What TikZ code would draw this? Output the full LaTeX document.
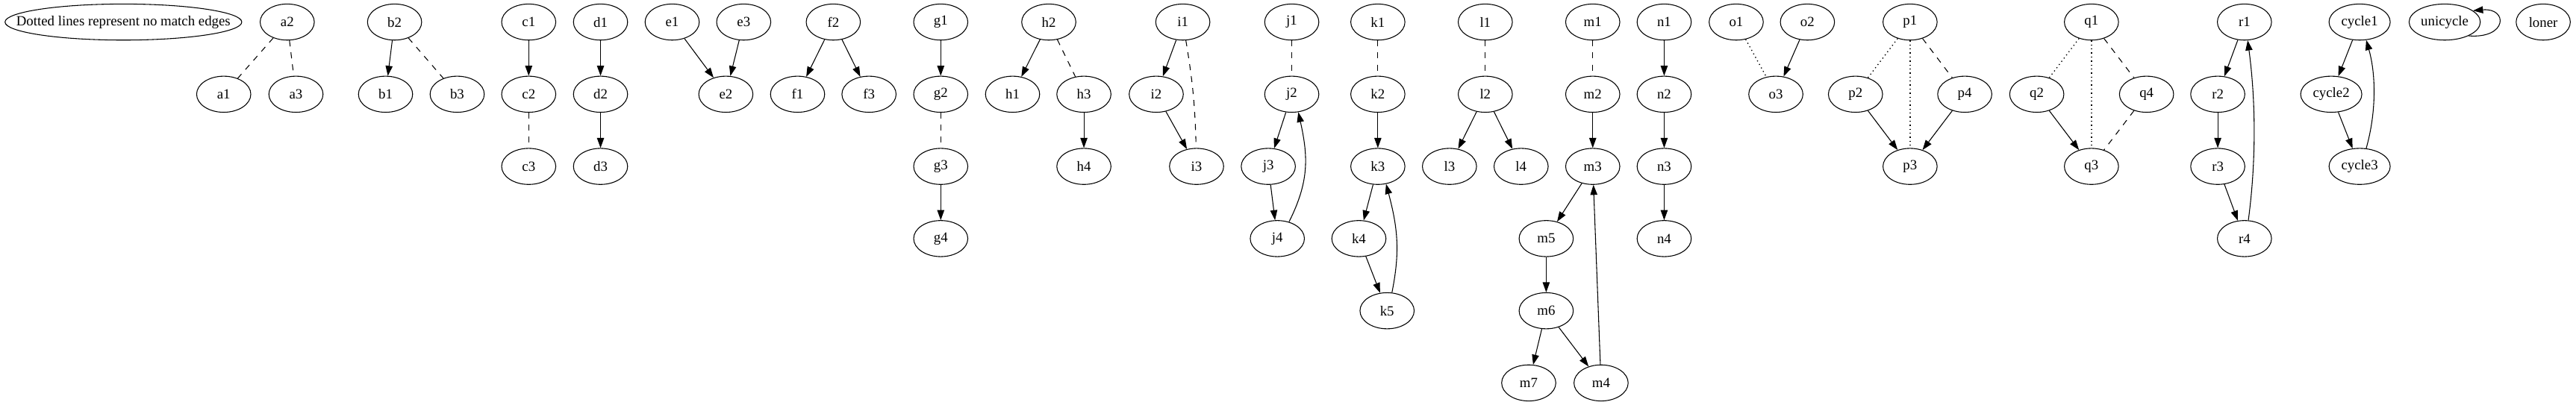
\documentclass[tikz,border=0pt]{standalone}
\usepackage{fontspec}
\setmainfont{Liberation Serif}
\usetikzlibrary{arrows.meta}
\usetikzlibrary{shapes.geometric}

\tikzset{
  vtx/.style={draw, ellipse, minimum width=54pt, minimum height=36pt, inner sep=0pt, line width=.8pt, font=\fontsize{14}{16}\selectfont},
  arredge/.style={line width=.8pt, -{Triangle[length=10pt,width=7pt]}},
  dashedge/.style={line width=.8pt, dash pattern=on 6pt off 6pt},
  dotedge/.style={line width=1pt, dash pattern=on 1pt off 3pt},
}

\begin{document}
\begin{tikzpicture} [x=1pt, y=1pt]
\useasboundingbox (0,0) rectangle (2567.7,-404);

\node[font=\fontsize{14}{16}\selectfont] (legend) at (123,-22) {Dotted lines represent no match edges};
\draw[line width=.8pt] (legend.center) ellipse [x radius=118pt, y radius=18pt];

\foreach \n/\x/\r [evaluate=\r as \yy using -22-72*(\r-1)] in {
  a2/286.3/1, b2/393.3/1, c1/527/1, d1/598.6/1, e1/670/1, e3/741.3/1, f2/830.6/1, g1/937.7/1,
  h2/1045.4/1, i1/1179/1, j1/1287.6/1, k1/1373.4/1, l1/1480.5/1, m1/1587.6/1, n1/1658.8/1,
  o1/1730.6/1, o2/1801.6/1, p1/1903.9/1, q1/2084.7/1, r1/2237.2/1, loner/2535/1,
  a1/223/2, a3/295/2, b1/384.3/2, b3/455.7/2, c2/527/2, d2/598.6/2, e2/723.5/2, f1/795/2,
  f3/866.2/2, g2/937.7/2, h1/1009.3/2, h3/1080.4/2, i2/1152.5/2, j2/1287.6/2, k2/1373.4/2,
  l2/1480.5/2, m2/1587.6/2, n2/1658.8/2, o3/1770.1/2, p2/1849.5/2, p4/1958.4/2, q2/2030.2/2,
  q4/2139.6/2, r2/2210.6/2,
  c3/527/3, d3/598.6/3, g3/937.7/3, h4/1080.4/3, i3/1192.7/3, j3/1264.2/3, k3/1373.4/3,
  l3/1444.8/3, l4/1516.2/3, m3/1587.6/3, n3/1658.8/3, p3/1903.9/3, q3/2084.7/3, r3/2210.6/3,
  g4/937.7/4, j4/1273.2/4, k4/1354.5/4, m5/1541.2/4, n4/1658.8/4, r4/2237.2/4,
  k5/1382.6/5, m6/1541.2/5,
  m7/1523.8/6, m4/1595.9/6}
\node[vtx] (\n) at (\x,\yy) {\n};

\node[vtx, minimum width=61pt] (cycle1) at (2352,-22) {cycle1};
\node[vtx, minimum width=61pt] (cycle2) at (2323.7,-94) {cycle2};
\node[vtx, minimum width=61pt] (cycle3) at (2352,-166) {cycle3};
\node[vtx, minimum width=71pt] (unicycle) at (2436.8,-22) {unicycle};

\foreach \s/\t in {b2/b1, c1/c2, d1/d2, d2/d3, e1/e2, e3/e2, f2/f1, f2/f3, g1/g2, g3/g4,
  h2/h1, h3/h4, i1/i2, i2/i3, j2/j3, j3/j4, k2/k3, k3/k4, k4/k5, l2/l3, l2/l4, m2/m3,
  m3/m5, m5/m6, m6/m7, m6/m4, m4/m3, n1/n2, n2/n3, n3/n4, o2/o3, p2/p3, p4/p3, q2/q3,
  r1/r2, r2/r3, r3/r4, cycle1/cycle2, cycle2/cycle3}
\draw[arredge] (\s) -- (\t);

\foreach \s/\t in {a2/a1, a2/a3, b2/b3, c2/c3, g2/g3, h2/h3, j1/j2, k1/k2, l1/l2, m1/m2,
  p1/p4, q1/q4, q4/q3}
\draw[dashedge] (\s) -- (\t);
\draw[dashedge] (i1) to[bend left=4] (i3);

\foreach \s/\t in {o1/o3, p1/p2, p1/p3, q1/q2, q1/q3}
\draw[dotedge] (\s) -- (\t);

% back edges
\draw[arredge] (j4.55) .. controls +(20,40) and +(10,-45) .. (j2.-70);
\draw[arredge] (k5.75) .. controls +(8,40) and +(12,-45) .. (k3.-65);
\draw[arredge] (r4.78) .. controls +(8,60) and +(8,-60) .. (r1.-80);
\draw[arredge] (cycle3.70) .. controls +(10,35) and +(10,-35) .. (cycle1.-70);
\draw[arredge] (unicycle.-30) .. controls +(39,-3) and +(35,3) .. (unicycle.22);

\end{tikzpicture}
\end{document}
